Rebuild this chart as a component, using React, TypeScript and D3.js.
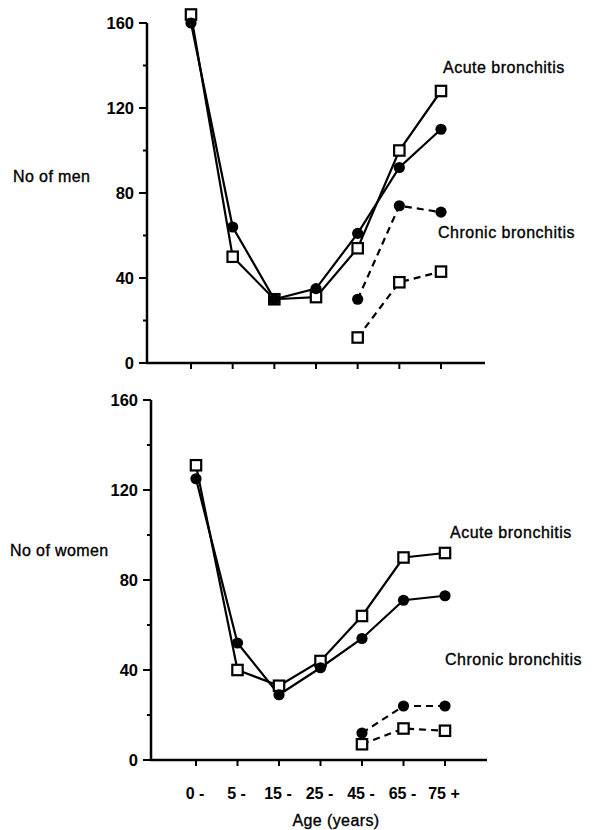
import * as d3 from "d3";

// age groups on the x axis
const ages = ["0 -", "5 -", "15 -", "25 -", "45 -", "65 -", "75 +"];
const chronicAges = ["45 -", "65 -", "75 +"];
const yTicks = [0, 20, 40, 60, 80, 100, 120, 140, 160];
const yLabels = [0, 40, 80, 120, 160];

// men
const menAcuteDots = [160, 64, 30, 35, 61, 92, 110];
const menAcuteSquares = [164, 50, 30, 31, 54, 100, 128];
const menChronicDots = [30, 74, 71];
const menChronicSquares = [12, 38, 43];

// women
const womenAcuteDots = [125, 52, 29, 41, 54, 71, 73];
const womenAcuteSquares = [131, 40, 33, 44, 64, 90, 92];
const womenChronicDots = [12, 24, 24];
const womenChronicSquares = [7, 14, 13];

const FONT = "'Liberation Sans', Arial, sans-serif";

interface Series {
  cats: string[];
  values: number[];
  marker: "dot" | "square";
  dashed: boolean;
}

interface PanelProps {
  top: number;
  bottom: number;
  axisX: number;
  axisEnd: number;
  xFrom: number;
  xTo: number;
  title: string;
  titleX: number;
  titleY: number;
  series: Series[];
  notes: { text: string; x: number; y: number }[];
  showXLabels: boolean;
}

const Panel = ({
  top,
  bottom,
  axisX,
  axisEnd,
  xFrom,
  xTo,
  title,
  titleX,
  titleY,
  series,
  notes,
  showXLabels,
}: PanelProps) => {
  const x = d3.scalePoint<string>().domain(ages).range([xFrom, xTo]);
  const y = d3.scaleLinear().domain([0, 160]).range([bottom, top]);

  return (
    <g>
      {/* y axis */}
      <line x1={axisX} x2={axisX} y1={y(0) + 1} y2={y(160)} stroke="#000" strokeWidth={2.5} />
      {yTicks.map((t) => (
        <line
          key={t}
          x1={axisX}
          x2={axisX - (t % 40 === 0 ? 8 : 4)}
          y1={y(t)}
          y2={y(t)}
          stroke="#000"
          strokeWidth={2}
        />
      ))}
      {yLabels.map((t) => (
        <text
          key={t}
          x={axisX - 13}
          y={y(t) + 6}
          textAnchor="end"
          fontSize={16.5}
          fontWeight="bold"
          fontFamily={FONT}
        >
          {t}
        </text>
      ))}
      {/* x axis */}
      <line x1={axisX - 1} x2={axisEnd} y1={y(0)} y2={y(0)} stroke="#000" strokeWidth={2.5} />
      {ages.map((a) => (
        <line key={a} x1={x(a)} x2={x(a)} y1={y(0)} y2={y(0) + 6} stroke="#000" strokeWidth={2} />
      ))}
      {showXLabels &&
        ages.map((a) => (
          <text
            key={a}
            x={x(a)! - 1}
            y={y(0) + 39}
            textAnchor="middle"
            fontSize={16}
            fontWeight="bold"
            fontFamily={FONT}
          >
            {a}
          </text>
        ))}
      <text
        x={titleX}
        y={titleY}
        fontSize={16}
        letterSpacing={0.4}
        fontFamily={FONT}
        stroke="#000"
        strokeWidth={0.35}
      >
        {title}
      </text>
      {/* lines */}
      {series.map((s, i) => {
        const path = d3
          .line<number>()
          .x((_, j) => x(s.cats[j])!)
          .y((d) => y(d))(s.values);
        return (
          <path
            key={"l" + i}
            d={path ?? ""}
            fill="none"
            stroke="#000"
            strokeWidth={2.2}
            strokeDasharray={s.dashed ? "7,5" : undefined}
          />
        );
      })}
      {/* markers */}
      {series.map((s, i) =>
        s.values.map((v, j) =>
          s.marker === "dot" ? (
            <circle key={`m${i}-${j}`} cx={x(s.cats[j])} cy={y(v)} r={5.6} fill="#000" />
          ) : (
            <rect
              key={`m${i}-${j}`}
              x={x(s.cats[j])! - 5.2}
              y={y(v) - 5.2}
              width={10.4}
              height={10.4}
              fill="#fff"
              stroke="#000"
              strokeWidth={2.2}
            />
          )
        )
      )}
      {notes.map((n) => (
        <text
          key={n.text}
          x={n.x}
          y={n.y}
          fontSize={16}
          letterSpacing={0.5}
          fontFamily={FONT}
          stroke="#000"
          strokeWidth={0.35}
        >
          {n.text}
        </text>
      ))}
    </g>
  );
};

export default function App() {
  return (
    <svg
      width={600}
      height={830}
      style={{ position: "absolute", left: 0, top: 0, background: "#fff" }}
    >
      <rect width={600} height={830} fill="#fff" />
      <Panel
        top={23}
        bottom={363}
        axisX={147}
        axisEnd={485}
        xFrom={191}
        xTo={441}
        title="No of men"
        titleX={13}
        titleY={182}
        showXLabels={false}
        series={[
          { cats: ages, values: menAcuteSquares, marker: "square", dashed: false },
          { cats: ages, values: menAcuteDots, marker: "dot", dashed: false },
          { cats: chronicAges, values: menChronicSquares, marker: "square", dashed: true },
          { cats: chronicAges, values: menChronicDots, marker: "dot", dashed: true },
        ]}
        notes={[
          { text: "Acute bronchitis", x: 443, y: 73 },
          { text: "Chronic bronchitis", x: 438, y: 238 },
        ]}
      />
      <Panel
        top={400}
        bottom={760}
        axisX={151}
        axisEnd={487}
        xFrom={196}
        xTo={445}
        title="No of women"
        titleX={10}
        titleY={556}
        showXLabels={true}
        series={[
          { cats: ages, values: womenAcuteSquares, marker: "square", dashed: false },
          { cats: ages, values: womenAcuteDots, marker: "dot", dashed: false },
          { cats: chronicAges, values: womenChronicSquares, marker: "square", dashed: true },
          { cats: chronicAges, values: womenChronicDots, marker: "dot", dashed: true },
        ]}
        notes={[
          { text: "Acute bronchitis", x: 450, y: 538 },
          { text: "Chronic bronchitis", x: 445, y: 665 },
        ]}
      />
      <text
        x={336}
        y={826}
        textAnchor="middle"
        fontSize={16}
        letterSpacing={0.4}
        fontFamily={FONT}
        stroke="#000"
        strokeWidth={0.35}
      >
        Age (years)
      </text>
    </svg>
  );
}
